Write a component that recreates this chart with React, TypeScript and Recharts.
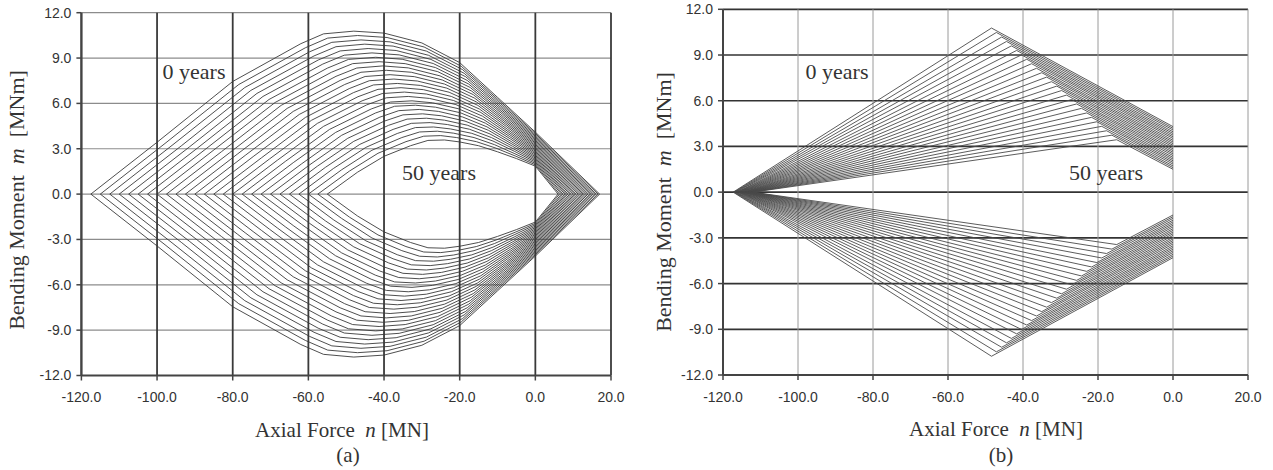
import React from "react";
import { ComposedChart, Line, XAxis, YAxis, CartesianGrid } from "recharts";

const xTicks = [-120, -100, -80, -60, -40, -20, 0, 20];
const yTicks = [-12, -9, -6, -3, 0, 3, 6, 9, 12];

// one curve every 2 years, 0 .. 50 years
const years = [0, 2, 4, 6, 8, 10, 12, 14, 16, 18, 20, 22, 24, 26, 28, 30, 32, 34, 36, 38, 40, 42, 44, 46, 48, 50];

// ---- panel (a): upper half knots of each curve (lower half is the mirror image)
const aLeftApexN = [-117.5, -115, -112.5, -110, -107.5, -105, -102.5, -100, -97.5, -95, -92.5, -90, -87.5, -85, -82.5, -80, -77.5, -75, -72.5, -70, -67.5, -65, -62.5, -60, -57.5, -55];
const aRightApexN = [17, 16.6, 16.1, 15.7, 15.2, 14.8, 14.4, 13.9, 13.5, 13.0, 12.6, 12.2, 11.7, 11.3, 10.8, 10.4, 10.0, 9.5, 9.1, 8.6, 8.2, 7.8, 7.3, 6.9, 6.4, 6.0];
const aKnotN = [
  [-100, -97.9, -95.8, -93.6, -91.5, -89.4, -87.3, -85.2, -83.0, -80.9, -78.8, -76.7, -74.6, -72.4, -70.3, -68.2, -66.1, -64.0, -61.8, -59.7, -57.6, -55.5, -53.4, -51.2, -49.1, -47.0],
  [-80, -78.4, -76.8, -75.2, -73.6, -72, -70.4, -68.8, -67.2, -65.6, -64, -62.4, -60.8, -59.2, -57.6, -56, -54.4, -52.8, -51.2, -49.6, -48, -46.4, -44.8, -43.2, -41.6, -40],
  [-62, -60.8, -59.7, -58.5, -57.4, -56.2, -55.0, -53.9, -52.7, -51.6, -50.4, -49.2, -48.1, -46.9, -45.8, -44.6, -43.4, -42.3, -41.1, -40.0, -38.8, -37.6, -36.5, -35.3, -34.2, -33.0],
  [-56, -54.9, -53.8, -52.7, -51.6, -50.5, -49.4, -48.3, -47.2, -46.1, -45.0, -43.9, -42.8, -41.6, -40.5, -39.4, -38.3, -37.2, -36.1, -35.0, -33.9, -32.8, -31.7, -30.6, -29.5, -28.4],
  [-48, -47.0, -46.1, -45.1, -44.2, -43.2, -42.2, -41.3, -40.3, -39.4, -38.4, -37.4, -36.5, -35.5, -34.6, -33.6, -32.6, -31.7, -30.7, -29.8, -28.8, -27.8, -26.9, -25.9, -25.0, -24.0],
  [-40, -39.2, -38.4, -37.6, -36.8, -36, -35.2, -34.4, -33.6, -32.8, -32, -31.2, -30.4, -29.6, -28.8, -28, -27.2, -26.4, -25.6, -24.8, -24, -23.2, -22.4, -21.6, -20.8, -20],
  [-30, -29.4, -28.8, -28.2, -27.6, -27, -26.4, -25.8, -25.2, -24.6, -24, -23.4, -22.8, -22.2, -21.6, -21, -20.4, -19.8, -19.2, -18.6, -18, -17.4, -16.8, -16.2, -15.6, -15],
  [-20, -19.6, -19.2, -18.8, -18.4, -18, -17.6, -17.2, -16.8, -16.4, -16, -15.6, -15.2, -14.8, -14.4, -14, -13.6, -13.2, -12.8, -12.4, -12, -11.6, -11.2, -10.8, -10.4, -10],
  [-10, -9.8, -9.6, -9.4, -9.2, -9, -8.8, -8.6, -8.4, -8.2, -8, -7.8, -7.6, -7.4, -7.2, -7, -6.8, -6.6, -6.4, -6.2, -6, -5.8, -5.6, -5.4, -5.2, -5],
  [0, 0, 0, 0, 0, 0, 0, 0, 0, 0, 0, 0, 0, 0, 0, 0, 0, 0, 0, 0, 0, 0, 0, 0, 0, 0],
];
const aKnotM = [
  [3.43, 3.35, 3.27, 3.19, 3.11, 3.03, 2.95, 2.88, 2.80, 2.72, 2.64, 2.56, 2.48, 2.40, 2.32, 2.24, 2.16, 2.08, 2.00, 1.93, 1.85, 1.77, 1.69, 1.61, 1.53, 1.45],
  [7.45, 7.25, 7.05, 6.86, 6.66, 6.46, 6.26, 6.06, 5.87, 5.67, 5.47, 5.27, 5.07, 4.88, 4.68, 4.48, 4.28, 4.08, 3.89, 3.69, 3.49, 3.29, 3.09, 2.90, 2.70, 2.50],
  [9.95, 9.68, 9.41, 9.14, 8.87, 8.60, 8.33, 8.06, 7.79, 7.52, 7.25, 6.98, 6.71, 6.44, 6.17, 5.90, 5.63, 5.36, 5.09, 4.82, 4.55, 4.28, 4.01, 3.74, 3.47, 3.20],
  [10.60, 10.32, 10.04, 9.75, 9.47, 9.19, 8.91, 8.63, 8.34, 8.06, 7.78, 7.50, 7.22, 6.93, 6.65, 6.37, 6.09, 5.81, 5.52, 5.24, 4.96, 4.68, 4.40, 4.11, 3.83, 3.55],
  [10.78, 10.49, 10.20, 9.92, 9.63, 9.34, 9.05, 8.76, 8.48, 8.19, 7.90, 7.61, 7.32, 7.04, 6.75, 6.46, 6.17, 5.88, 5.60, 5.31, 5.02, 4.73, 4.44, 4.16, 3.87, 3.58],
  [10.65, 10.36, 10.07, 9.79, 9.50, 9.21, 8.92, 8.63, 8.35, 8.06, 7.77, 7.48, 7.19, 6.91, 6.62, 6.33, 6.04, 5.75, 5.47, 5.18, 4.89, 4.60, 4.31, 4.03, 3.74, 3.45],
  [10.00, 9.73, 9.46, 9.18, 8.91, 8.64, 8.37, 8.10, 7.82, 7.55, 7.28, 7.01, 6.74, 6.46, 6.19, 5.92, 5.65, 5.38, 5.10, 4.83, 4.56, 4.29, 4.02, 3.74, 3.47, 3.20],
  [8.70, 8.46, 8.23, 7.99, 7.76, 7.52, 7.28, 7.05, 6.81, 6.58, 6.34, 6.10, 5.87, 5.63, 5.40, 5.16, 4.92, 4.69, 4.45, 4.22, 3.98, 3.74, 3.51, 3.27, 3.04, 2.80],
  [6.40, 6.24, 6.08, 5.91, 5.75, 5.59, 5.43, 5.27, 5.10, 4.94, 4.78, 4.62, 4.46, 4.29, 4.13, 3.97, 3.81, 3.65, 3.48, 3.32, 3.16, 3.00, 2.84, 2.67, 2.51, 2.35],
  [4.10, 4.01, 3.92, 3.83, 3.74, 3.65, 3.56, 3.47, 3.38, 3.29, 3.20, 3.11, 3.02, 2.93, 2.84, 2.75, 2.66, 2.57, 2.48, 2.39, 2.30, 2.21, 2.12, 2.03, 1.94, 1.85],
];

// ---- panel (b): apex on the axis, corner, and the value where each curve is cut at n = 0
const bLeftApexN = [-117.3, -117.1, -116.9, -116.7, -116.5, -116.2, -116.0, -115.8, -115.6, -115.4, -115.2, -115.0, -114.8, -114.5, -114.3, -114.1, -113.9, -113.7, -113.5, -113.3, -113.1, -112.8, -112.6, -112.4, -112.2, -112.0];
const bCornerN = [-48.4, -47.1, -45.7, -44.4, -43.1, -41.7, -40.4, -39.0, -37.7, -36.4, -35.0, -33.7, -32.4, -31.0, -29.7, -28.4, -27.0, -25.7, -24.4, -23.0, -21.7, -20.3, -19.0, -17.7, -16.3, -15.0];
const bCornerM = [10.77, 10.48, 10.18, 9.89, 9.60, 9.30, 9.01, 8.72, 8.43, 8.13, 7.84, 7.55, 7.25, 6.96, 6.67, 6.37, 6.08, 5.79, 5.50, 5.20, 4.91, 4.62, 4.32, 4.03, 3.74, 3.44];
const bEndM = [4.30, 4.19, 4.08, 3.96, 3.85, 3.74, 3.63, 3.52, 3.40, 3.29, 3.18, 3.07, 2.96, 2.84, 2.73, 2.62, 2.51, 2.40, 2.28, 2.17, 2.06, 1.95, 1.84, 1.72, 1.61, 1.50];

type Pt = { n: number; m: number };

function curveA(i: number): Pt[] {
  const upper: Pt[] = [{ n: aLeftApexN[i], m: 0 }];
  aKnotN.forEach((row, k) => upper.push({ n: row[i], m: aKnotM[k][i] }));
  upper.push({ n: aRightApexN[i], m: 0 });
  const lower = upper.slice(0, -1).reverse().map((p) => ({ n: p.n, m: -p.m }));
  return [...upper, ...lower];
}

function curveB(i: number): Pt[] {
  return [
    { n: 0, m: -bEndM[i] },
    { n: bCornerN[i], m: -bCornerM[i] },
    { n: bLeftApexN[i], m: 0 },
    { n: bCornerN[i], m: bCornerM[i] },
    { n: 0, m: bEndM[i] },
  ];
}

const curvesA = years.map((_, i) => curveA(i));
const curvesB = years.map((_, i) => curveB(i));

const tickStyle = { fontFamily: "Liberation Sans, Arial, sans-serif", fontSize: 14, fill: "#333" };
const serif = "Liberation Serif, Times New Roman, serif";

type PanelProps = {
  curves: Pt[][];
  left: number;
  width: number;
  yAxisW: number;
  top: number;
  right: number;
  bottom: number;
  hStroke: string;
  hWidth: number;
  vStroke: string;
  vWidth: number;
  lineStroke: string;
};

function Panel(p: PanelProps) {
  return (
    <div style={{ position: "absolute", left: p.left, top: 0 }}>
      <ComposedChart
        width={p.width}
        height={470}
        margin={{ top: p.top, right: p.right, left: 0, bottom: p.bottom }}
      >
        <CartesianGrid horizontal={true} vertical={false} stroke={p.hStroke} strokeWidth={p.hWidth} />
        <CartesianGrid horizontal={false} vertical={true} stroke={p.vStroke} strokeWidth={p.vWidth} />
        <XAxis
          type="number"
          dataKey="n"
          domain={[-120, 20]}
          ticks={xTicks}
          allowDataOverflow
          tickFormatter={(v: number) => v.toFixed(1)}
          tick={tickStyle}
          tickSize={5}
          tickMargin={12}
          height={30}
          axisLine={{ stroke: "#444", strokeWidth: 2 }}
          tickLine={{ stroke: "#444", strokeWidth: 1.5 }}
        />
        <YAxis
          type="number"
          dataKey="m"
          domain={[-12, 12]}
          ticks={yTicks}
          allowDataOverflow
          tickFormatter={(v: number) => v.toFixed(1)}
          tick={tickStyle}
          tickSize={5}
          tickMargin={5}
          width={p.yAxisW}
          axisLine={{ stroke: "#444", strokeWidth: 2 }}
          tickLine={{ stroke: "#444", strokeWidth: 1.5 }}
        />
        {p.curves.map((c, i) => (
          <Line
            key={i}
            data={c}
            dataKey="m"
            type="linear"
            dot={false}
            activeDot={false}
            stroke={p.lineStroke}
            strokeWidth={0.9}
            isAnimationActive={false}
          />
        ))}
      </ComposedChart>
    </div>
  );
}

function Text({ x, y, size, children, rotate }: { x: number; y: number; size: number; children: React.ReactNode; rotate?: boolean }) {
  return (
    <div
      style={{
        position: "absolute",
        left: x,
        top: y,
        transform: `translate(-50%, -50%)${rotate ? " rotate(-90deg)" : ""}`,
        fontFamily: serif,
        fontSize: size,
        color: "#333",
        whiteSpace: "nowrap",
        lineHeight: 1.15,
      }}
    >
      {children}
    </div>
  );
}

export default function App() {
  return (
    <div style={{ position: "absolute", left: 0, top: 0, width: 1273, height: 470, background: "#fff" }}>
      <Panel
        curves={curvesA}
        left={0}
        width={640}
        yAxisW={81.4}
        top={12.7}
        right={29}
        bottom={64.5}
        hStroke="#8c8c8c"
        hWidth={1.2}
        vStroke="#3a3a3a"
        vWidth={1.8}
        lineStroke="#3a3a3a"
      />
      <Panel
        curves={curvesB}
        left={640}
        width={633}
        yAxisW={83}
        top={9.3}
        right={25}
        bottom={65}
        hStroke="#333"
        hWidth={1.7}
        vStroke="#9a9a9a"
        vWidth={1}
        lineStroke="#4a4a4a"
      />
      <Text x={17} y={200} size={22} rotate>
        Bending Moment&nbsp;&nbsp;<i>m</i>&nbsp;&nbsp;[MNm]
      </Text>
      <Text x={664} y={202} size={22} rotate>
        Bending Moment&nbsp;&nbsp;<i>m</i>&nbsp;&nbsp;[MNm]
      </Text>
      <Text x={342} y={430} size={21}>
        Axial Force&nbsp;&nbsp;<i>n</i>&nbsp;[MN]
      </Text>
      <Text x={996} y={429} size={21}>
        Axial Force&nbsp;&nbsp;<i>n</i>&nbsp;[MN]
      </Text>
      <Text x={348} y={455} size={21}>(a)</Text>
      <Text x={1001} y={455} size={21}>(b)</Text>
      <Text x={194} y={72} size={22}>0 years</Text>
      <Text x={439} y={173} size={22}>50 years</Text>
      <Text x={837} y={72} size={22}>0 years</Text>
      <Text x={1106} y={173} size={22}>50 years</Text>
    </div>
  );
}
